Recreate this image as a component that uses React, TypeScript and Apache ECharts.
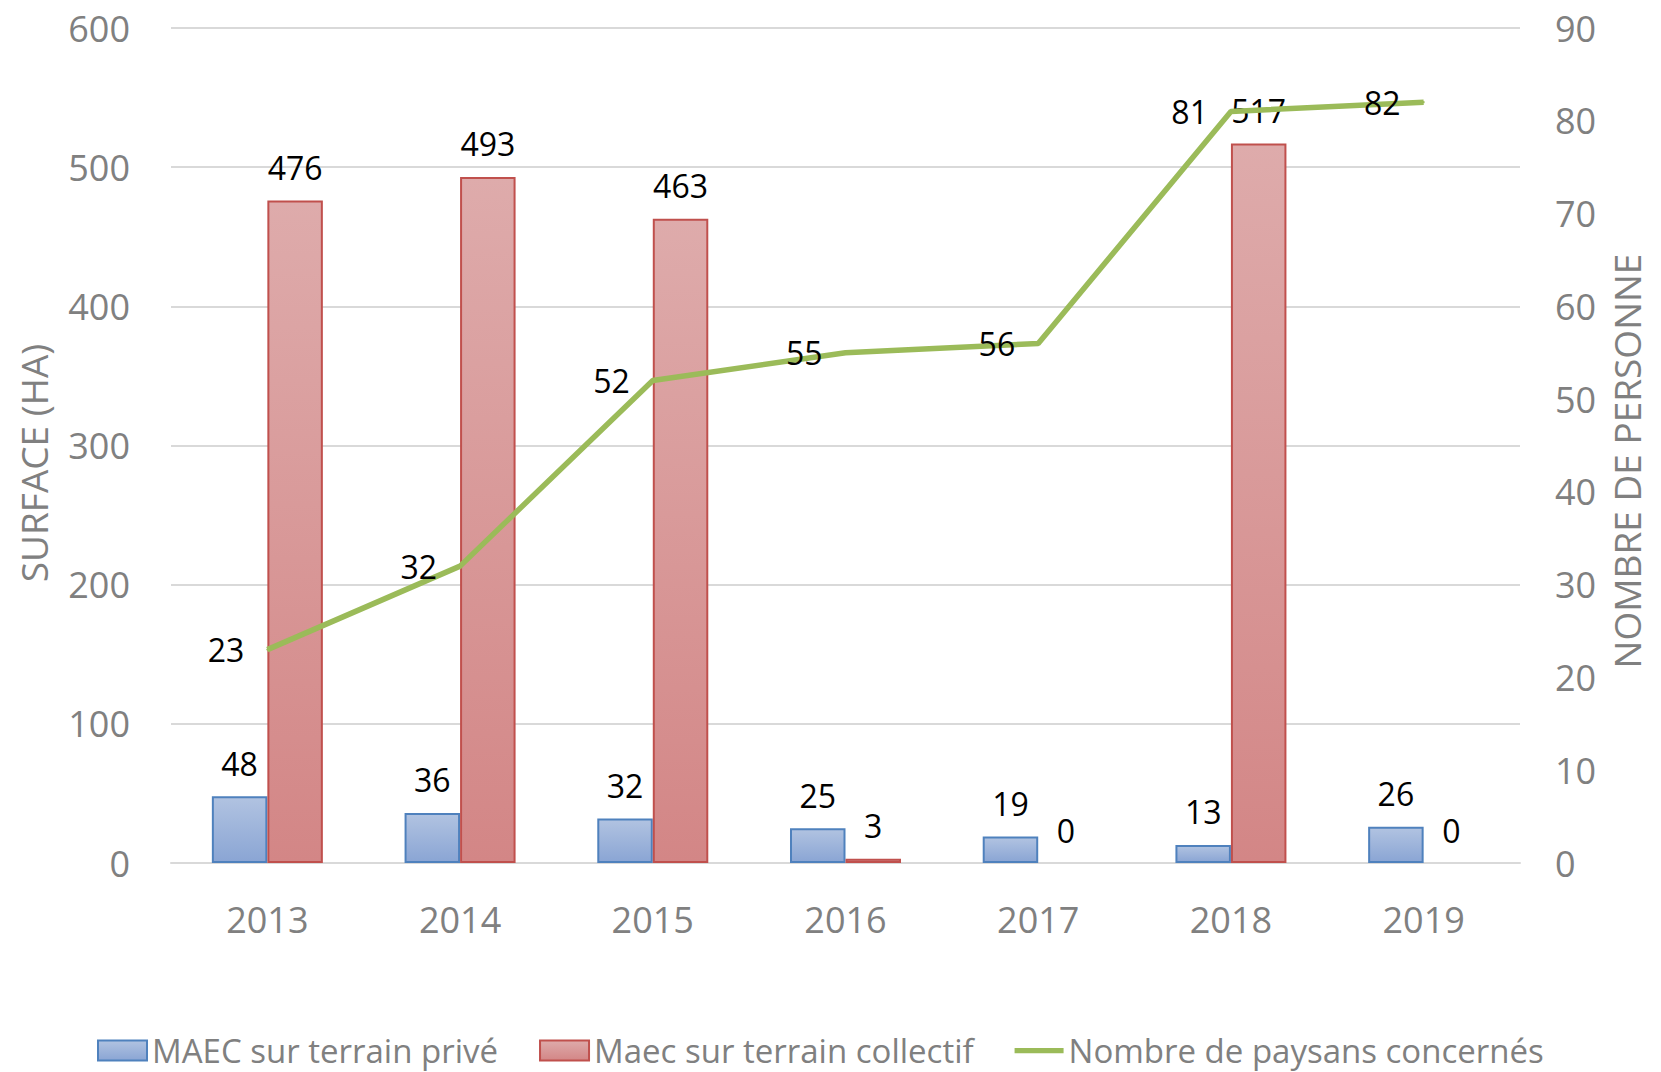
import React, { useEffect, useRef } from "react";
import * as echarts from "echarts";

const years = ["2013", "2014", "2015", "2016", "2017", "2018", "2019"];
const maecPrive = [48, 36, 32, 25, 19, 13, 26];
const maecCollectif = [476, 493, 463, 3, 0, 517, 0];
const paysans = [23, 32, 52, 55, 56, 81, 82];
const leftTitle = "SURFACE (HA)";
const rightTitle = "NOMBRE DE PERSONNE";

const FONT = "'Open Sans', 'Noto Sans', sans-serif";
const GRAY = "#808080";
const GREEN = "#9BBB59";

export default function App() {
  const ref = useRef<HTMLDivElement>(null);
  useEffect(() => {
    document.body.style.margin = "0";
    const chart = echarts.init(ref.current!, null, { renderer: "svg" });
    const labelStyle = {
      show: true,
      color: "#000",
      fontSize: 32,
      fontFamily: FONT,
    };
    const barData = (arr: number[]) =>
      arr.map((v) => (v === 0 ? { value: v, itemStyle: { borderWidth: 0 } } : v));
    chart.setOption({
      animation: false,
      textStyle: { fontFamily: FONT },
      grid: { left: 171, right: 141, top: 28, bottom: 209, containLabel: false },
      legend: {
        left: 97,
        top: 1034,
        padding: 0,
        itemWidth: 49,
        itemHeight: 20,
        itemGap: 41,
        textStyle: { color: GRAY, fontSize: 33, fontFamily: FONT },
        data: [
          { name: "MAEC sur terrain privé", icon: "rect" },
          { name: "Maec sur terrain collectif", icon: "rect" },
          {
            name: "Nombre de paysans concernés",
            icon: "path://M0,0 L56,0 L56,6 L0,6 Z",
            itemStyle: { color: GREEN },
          },
        ],
      },
      graphic: [
        {
          type: "text",
          x: 33,
          y: 463,
          rotation: Math.PI / 2,
          style: {
            text: leftTitle,
            fill: GRAY,
            font: `37px ${FONT}`,
            align: "center",
            verticalAlign: "middle",
          },
        },
        {
          type: "text",
          x: 1626,
          y: 461,
          rotation: Math.PI / 2,
          style: {
            text: rightTitle,
            fill: GRAY,
            font: `37px ${FONT}`,
            align: "center",
            verticalAlign: "middle",
          },
        },
      ],
      xAxis: {
        type: "category",
        data: years,
        axisLine: { show: true, lineStyle: { color: "#D9D9D9", width: 2 } },
        axisTick: { show: false },
        axisLabel: { color: GRAY, fontSize: 36, fontFamily: FONT, margin: 38 },
      },
      yAxis: [
        {
          type: "value",
          min: 0,
          max: 600,
          interval: 100,
          axisLine: { show: false },
          axisTick: { show: false },
          axisLabel: { color: GRAY, fontSize: 36, fontFamily: FONT, margin: 41 },
          splitLine: { lineStyle: { color: "#D9D9D9", width: 2 } },
        },
        {
          type: "value",
          min: 0,
          max: 90,
          interval: 10,
          axisLine: { show: false },
          axisTick: { show: false },
          axisLabel: { color: GRAY, fontSize: 36, fontFamily: FONT, margin: 35 },
          splitLine: { show: false },
        },
      ],
      series: [
        {
          name: "MAEC sur terrain privé",
          type: "bar",
          data: barData(maecPrive),
          barWidth: "28.8%",
          barGap: "0%",
          itemStyle: {
            color: new echarts.graphic.LinearGradient(0, 0, 0, 1, [
              { offset: 0, color: "#B1C3E1" },
              { offset: 1, color: "#8AA5D4" },
            ]),
            borderColor: "#4F81BD",
            borderWidth: 2,
          },
          label: { ...labelStyle, position: "top", distance: 17 },
          z: 2,
        },
        {
          name: "Maec sur terrain collectif",
          type: "bar",
          data: barData(maecCollectif),
          barWidth: "28.8%",
          barGap: "0%",
          itemStyle: {
            color: new echarts.graphic.LinearGradient(0, 0, 0, 1, [
              { offset: 0, color: "#DEABAB" },
              { offset: 1, color: "#D38686" },
            ]),
            borderColor: "#C0504D",
            borderWidth: 2,
          },
          label: { ...labelStyle, position: "top", distance: 17 },
          z: 2,
        },
        {
          name: "Nombre de paysans concernés",
          type: "line",
          yAxisIndex: 1,
          data: paysans,
          symbol: "circle",
          symbolSize: 2,
          showSymbol: true,
          lineStyle: { color: GREEN, width: 5.5 },
          itemStyle: { color: GREEN },
          label: { ...labelStyle, position: "left", distance: 22 },
          z: 3,
        },
      ],
    });
    return () => chart.dispose();
  }, []);
  return (
    <div
      ref={ref}
      style={{ width: 1661, height: 1072, position: "absolute", left: 0, top: 0, background: "#fff" }}
    />
  );
}
